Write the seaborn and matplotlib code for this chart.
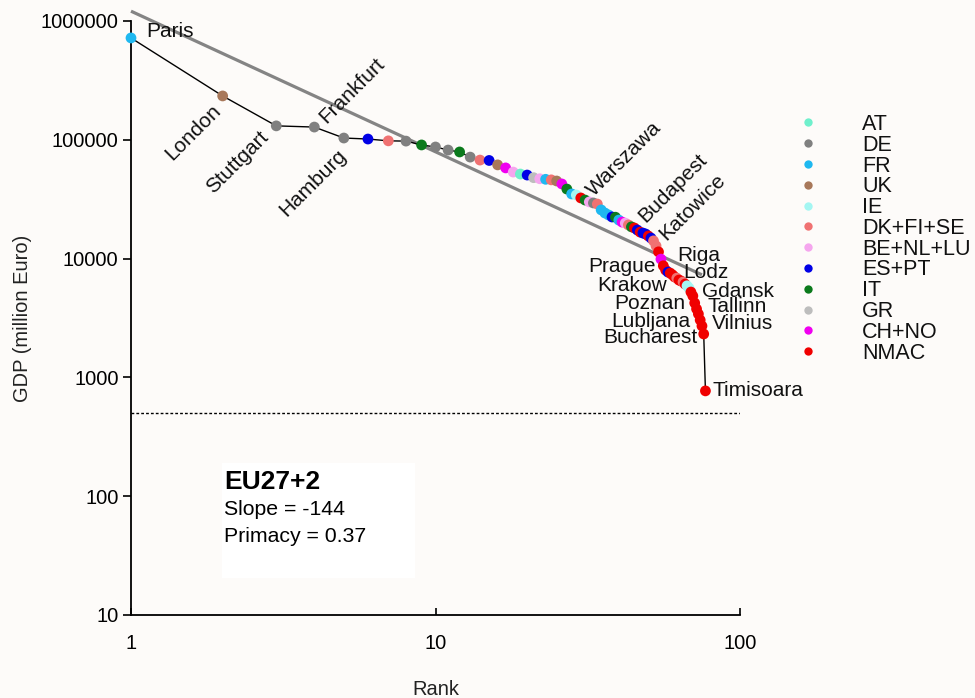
import matplotlib
matplotlib.use("Agg")
import matplotlib.pyplot as plt
import seaborn as sns
import pandas as pd
from matplotlib.lines import Line2D
from matplotlib.patches import Rectangle
from matplotlib.ticker import FixedLocator, FixedFormatter, NullLocator

# City GDP by rank (million Euro)
rank = list(range(1, 78))
gdp = [720000, 234000, 131000, 128000, 103500, 101500, 98000, 97500, 90500, 87000,
       82000, 79000, 71500, 67500, 67000, 61500, 58000, 53500, 51500, 50500,
       48000, 47000, 46500, 46000, 45000, 42500, 38500, 35000, 34300, 32400,
       31100, 30000, 29400, 28800, 25700, 24200, 23300, 22400, 22300, 21100,
       20300, 19900, 19200, 18500, 18100, 17400, 16700, 16400, 16100, 15500,
       14900, 14100, 12800, 11400, 9900, 8700, 8000, 7700, 7550, 7300,
       7000, 6850, 6600, 6480, 6350, 6100, 5900, 5650, 5230, 4850,
       4230, 3770, 3420, 3040, 2710, 2320, 770]
group = ["FR", "UK", "DE", "DE", "DE", "ES+PT", "DK+FI+SE", "DE", "IT", "DE",
         "DE", "IT", "DE", "DK+FI+SE", "ES+PT", "UK", "CH+NO", "BE+NL+LU", "AT", "ES+PT",
         "GR", "BE+NL+LU", "FR", "DK+FI+SE", "UK", "CH+NO", "IT", "FR", "IE", "NMAC",
         "IT", "BE+NL+LU", "DE", "DK+FI+SE", "FR", "FR", "FR", "ES+PT", "IT", "FR",
         "CH+NO", "BE+NL+LU", "DK+FI+SE", "IT", "NMAC", "ES+PT", "NMAC", "ES+PT", "ES+PT", "NMAC",
         "ES+PT", "DK+FI+SE", "DK+FI+SE", "NMAC", "CH+NO", "NMAC", "NMAC", "ES+PT", "NMAC", "NMAC",
         "NMAC", "DK+FI+SE", "NMAC", "NMAC", "DK+FI+SE", "NMAC", "IE", "IE", "NMAC", "NMAC",
         "NMAC", "NMAC", "NMAC", "NMAC", "NMAC", "NMAC", "NMAC"]

group_order = ["AT", "DE", "FR", "UK", "IE", "DK+FI+SE", "BE+NL+LU",
               "ES+PT", "IT", "GR", "CH+NO", "NMAC"]
group_colors = ["#6ff0cc", "#808080", "#1fb8f0", "#a8785a", "#a4f6f2", "#f07272",
                "#f5a6ee", "#0000e6", "#0b7a1c", "#bdbdbd", "#f000f0", "#f00000"]

# City labels: rank -> (name, dx px, dy px, rotation, ha)
city_labels = {
    1: ("Paris", 15, 6, 0, "left"),
    2: ("London", -30, -36, 45, "center"),
    3: ("Stuttgart", -39, -36, 45, "center"),
    4: ("Frankfurt", 38, 37, 45, "center"),
    5: ("Hamburg", -31, -45, 45, "center"),
    30: ("Warszawa", 43, 39, 45, "center"),
    45: ("Budapest", 38, 40, 45, "center"),
    47: ("Katowice", 52, 25, 45, "center"),
    54: ("Riga", 19, -4, 0, "left"),
    56: ("Prague", -8, -1, 0, "right"),
    57: ("Lodz", 18, -2, 0, "left"),
    59: ("Krakow", -3, -12, 0, "right"),
    63: ("Poznan", 6, -23, 0, "right"),
    66: ("Gdansk", 17, -7, 0, "left"),
    69: ("Lubljana", -1, -29, 0, "right"),
    70: ("Tallinn", 15, -11, 0, "left"),
    73: ("Vilnius", 14, -10, 0, "left"),
    76: ("Bucharest", -6, -4, 0, "right"),
    77: ("Timisoara", 7, 0, 0, "left"),
}

# Rank-size regression line end points and the size threshold
fit_rank = [1, 75]
fit_gdp = [1.21e6, 7300]
threshold = 500

x_ticks = [1, 10, 100]
y_ticks = [10, 100, 1000, 10000, 100000, 1000000]

df = pd.DataFrame({"rank": rank, "gdp": gdp, "group": group})
palette = dict(zip(group_order, group_colors))

sns.set_theme(style="white")
plt.rcParams["font.family"] = ["Liberation Sans", "DejaVu Sans"]
plt.rcParams["text.color"] = "#111111"

W, H = 975, 698
bg = "#fdfbf9"
fig = plt.figure(figsize=(W / 100, H / 100), dpi=100)
fig.patch.set_facecolor(bg)
ax = fig.add_axes([131 / W, 1 - 615 / H, 609 / W, 594 / H])
ax.set_facecolor(bg)
ax.set_xscale("log")
ax.set_yscale("log")
ax.set_xlim(1, 100)
ax.set_ylim(10, 1e6)

# summary box
ax.add_patch(Rectangle((222 / W, 1 - 578 / H), 193 / W, 115 / H,
                       transform=fig.transFigure, facecolor="white",
                       edgecolor="none", zorder=0.5))

ax.plot(fit_rank, fit_gdp, color="#848484", lw=2.3, zorder=1, clip_on=False,
        solid_capstyle="butt")
ax.axhline(threshold, color="black", lw=1, ls=(0, (2, 1.5)), zorder=1)

sns.lineplot(data=df, x="rank", y="gdp", color="black", lw=1, sort=False,
             ax=ax, zorder=2, legend=False)
sns.scatterplot(data=df, x="rank", y="gdp", hue="group", palette=palette,
                hue_order=group_order, s=60, edgecolor="none", ax=ax,
                zorder=3, legend=False, clip_on=False)

for r, (name, dx, dy, rot, ha) in city_labels.items():
    ax.annotate(name, xy=(rank[r - 1], gdp[r - 1]), xytext=(dx, dy),
                textcoords="offset pixels", rotation=rot, ha=ha, va="center",
                fontsize=15, color="#111111", rotation_mode="anchor", zorder=4)

ax.xaxis.set_major_locator(FixedLocator(x_ticks))
ax.xaxis.set_major_formatter(FixedFormatter([str(t) for t in x_ticks]))
ax.yaxis.set_major_locator(FixedLocator(y_ticks))
ax.yaxis.set_major_formatter(FixedFormatter([str(t) for t in y_ticks]))
ax.xaxis.set_minor_locator(NullLocator())
ax.yaxis.set_minor_locator(NullLocator())
ax.tick_params(axis="y", direction="out", length=6, width=1.2, pad=3,
               labelsize=14.5, colors="black", left=True)
ax.tick_params(axis="x", direction="in", length=5, width=1.2, pad=14,
               labelsize=14.5, colors="black", bottom=True)

sns.despine(ax=ax)
for side in ("left", "bottom"):
    ax.spines[side].set_color("black")
    ax.spines[side].set_linewidth(1.3)

ax.set_xlabel("Rank", fontsize=14.5, labelpad=19, color="#222222")
ax.set_ylabel("GDP (million Euro)", fontsize=14.5, labelpad=6, color="#222222")

handles = [Line2D([], [], ls="none", marker="o", markersize=6,
                  markerfacecolor=c, markeredgecolor="none")
           for c in group_colors]
fig.legend(handles, group_order, loc="upper left",
           bbox_to_anchor=(797.3 / W, 1 - 114 / H),
           bbox_transform=fig.transFigure, frameon=False, fontsize=15.5,
           handlelength=1.0, handletextpad=2.01, labelspacing=-0.01,
           borderpad=0, borderaxespad=0, labelcolor="#111111")

fig.text(224 / W, 1 - 489 / H, "EU27+2", fontsize=19, fontweight="bold",
         ha="left", va="baseline", color="black")
fig.text(224 / W, 1 - 515 / H, "Slope = -144", fontsize=15.3, ha="left",
         va="baseline", color="black")
fig.text(224 / W, 1 - 542 / H, "Primacy = 0.37", fontsize=15.3, ha="left",
         va="baseline", color="black")

fig.savefig("out.png", dpi=100, facecolor=bg)
